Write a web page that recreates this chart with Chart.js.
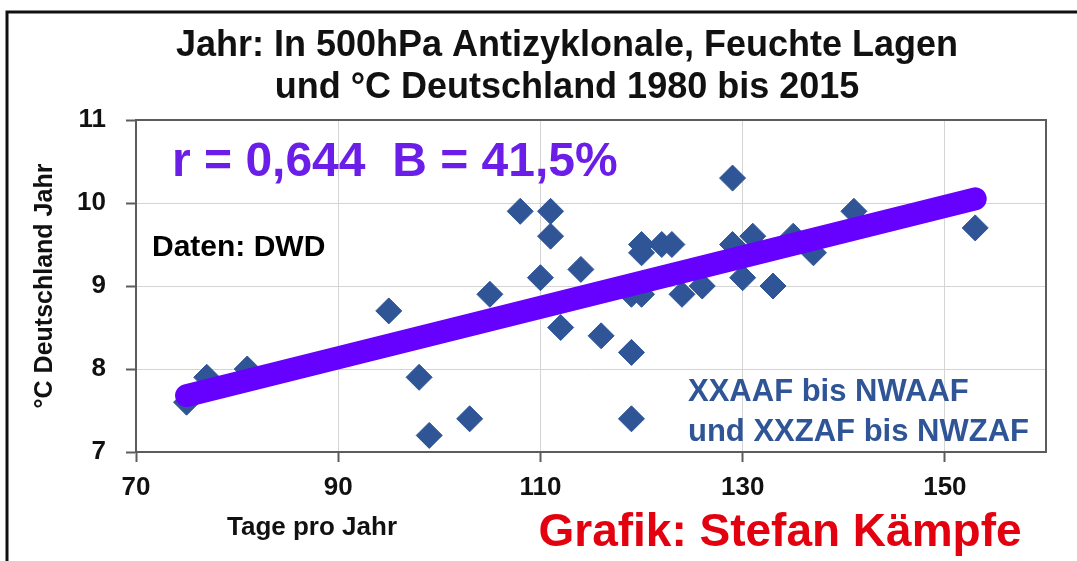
<!DOCTYPE html>
<html>
<head>
<meta charset="utf-8">
<script src="https://cdn.jsdelivr.net/npm/chart.js@4"></script>
<style>
  html, body { margin: 0; padding: 0; background: #fff; }
  canvas { display: block; }
</style>
</head>
<body>
<canvas id="scatterChart" width="1077" height="561"></canvas>
<script>
// Days per year with the selected weather types vs. mean temperature (Germany)
const days = [75, 77, 81, 95, 98, 99, 103, 105, 108, 110, 111, 111, 112, 114, 116, 119, 119, 119,
  120, 120, 120, 122, 123, 124, 126, 129, 129, 130, 131, 133, 135, 137, 141, 153];
const temps = [7.6, 7.9, 8.0, 8.7, 7.9, 7.2, 7.4, 8.9, 9.9, 9.1, 9.9, 9.6, 8.5, 9.2, 8.4, 8.2, 7.4, 8.9,
  9.5, 9.4, 8.9, 9.5, 9.5, 8.9, 9.0, 10.3, 9.5, 9.1, 9.6, 9.0, 9.6, 9.4, 9.9, 9.7];

// linear trend, end points
const trendDays = [75, 153];
const trendTemps = [7.68, 10.05];

const xTicks = [70, 90, 110, 130, 150];
const yTicks = [7, 8, 9, 10, 11];

const titleLines = ['Jahr: In 500hPa Antizyklonale, Feuchte Lagen', 'und °C Deutschland 1980 bis 2015'];
const xTitle = 'Tage pro Jahr';
const yTitle = '°C Deutschland Jahr';

const FONT = "'Liberation Sans', Arial, sans-serif";

const labels = [
  { text: 'r = 0,644  B = 41,5%', x: 172, y: 163, size: 48, color: '#6a1ee8', align: 'left' },
  { text: 'Daten: DWD', x: 152, y: 248, size: 30, color: '#000', align: 'left' },
  { text: 'XXAAF bis NWAAF', x: 688, y: 392, size: 31, color: '#2f5597', align: 'left' },
  { text: 'und XXZAF bis NWZAF', x: 688, y: 432, size: 31, color: '#2f5597', align: 'left' },
  { text: xTitle, x: 312, y: 528, size: 26, color: '#111', align: 'center' },
  { text: 'Grafik: Stefan Kämpfe', x: 780, y: 533, size: 46, color: '#e3000f', align: 'center' },
  { text: titleLines[0], x: 567, y: 46, size: 36, color: '#111', align: 'center' },
  { text: titleLines[1], x: 567, y: 88, size: 36, color: '#111', align: 'center' },
];

const decor = {
  id: 'decor',
  beforeDraw(chart) {
    const { ctx } = chart;
    ctx.save();
    ctx.fillStyle = '#fff';
    ctx.fillRect(0, 0, chart.width, chart.height);
    // outer frame
    ctx.strokeStyle = '#111';
    ctx.lineWidth = 3;
    ctx.strokeRect(7, 12, chart.width + 20, chart.height + 20);
    ctx.restore();
  },
  beforeDatasetsDraw(chart) {
    const { ctx, chartArea: a } = chart;
    ctx.save();
    ctx.strokeStyle = '#5c5c5c';
    ctx.lineWidth = 2;
    ctx.strokeRect(a.left, a.top, a.right - a.left, a.bottom - a.top);
    ctx.restore();
  },
  afterDraw(chart) {
    const { ctx } = chart;
    ctx.save();
    ctx.textBaseline = 'middle';
    labels.forEach(l => {
      ctx.font = 'bold ' + l.size + 'px ' + FONT;
      ctx.fillStyle = l.color;
      ctx.textAlign = l.align;
      ctx.fillText(l.text, l.x, l.y);
    });
    ctx.restore();
  }
};

const ctx = document.getElementById('scatterChart').getContext('2d');

new Chart(ctx, {
  type: 'scatter',
  data: {
    datasets: [
      {
        label: 'Trend',
        data: trendDays.map((d, i) => ({ x: d, y: trendTemps[i] })),
        showLine: true,
        borderColor: '#6600ff',
        borderWidth: 23,
        borderCapStyle: 'round',
        pointRadius: 0,
      },
      {
        label: 'Jahre',
        data: days.map((d, i) => ({ x: d, y: temps[i] })),
        pointStyle: 'rectRot',
        pointRadius: 13,
        pointBackgroundColor: '#2f5597',
        pointBorderColor: '#2f5597',
        pointBorderWidth: 1,
      },
    ],
  },
  options: {
    responsive: false,
    animation: false,
    devicePixelRatio: 1,
    layout: { padding: { left: 20, top: 120, right: 31, bottom: 49 } },
    plugins: {
      legend: { display: false },
      tooltip: { enabled: false },
    },
    scales: {
      x: {
        type: 'linear',
        min: 70,
        max: 160,
        afterBuildTicks: (axis) => { axis.ticks = xTicks.map(v => ({ value: v })); },
        afterFit: (axis) => { axis.height = 60; },
        grid: { color: '#d4d4d4', lineWidth: 1, tickLength: 10, tickColor: '#5c5c5c', tickWidth: 2 },
        border: { color: '#5c5c5c', width: 2 },
        ticks: {
          padding: 10,
          color: '#111',
          font: { family: FONT, size: 26, weight: 'bold' },
        },
      },
      y: {
        min: 7,
        max: 11,
        afterBuildTicks: (axis) => { axis.ticks = yTicks.map(v => ({ value: v })); },
        afterFit: (axis) => { axis.width = 116; },
        grid: { color: '#d4d4d4', lineWidth: 1, tickLength: 10, tickColor: '#5c5c5c', tickWidth: 2 },
        border: { color: '#5c5c5c', width: 2 },
        ticks: {
          padding: 20,
          color: '#111',
          font: { family: FONT, size: 26, weight: 'bold' },
        },
        title: {
          display: true,
          text: yTitle,
          color: '#111',
          padding: { top: 10, bottom: 0 },
          font: { family: FONT, size: 25, weight: 'bold' },
        },
      },
    },
  },
  plugins: [decor],
});
</script>
</body>
</html>
